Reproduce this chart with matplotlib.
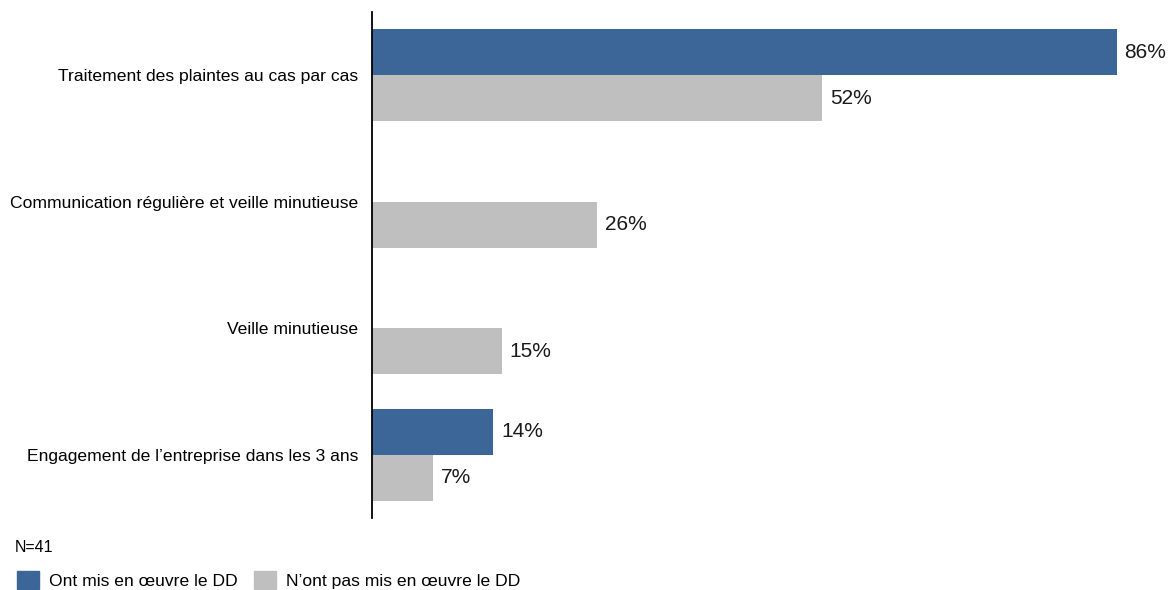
import matplotlib.pyplot as plt
from matplotlib.patches import Patch

plt.rcParams['font.family'] = ['Liberation Sans', 'DejaVu Sans']

categories = ["Traitement des plaintes au cas par cas",
              "Communication régulière et veille minutieuse",
              "Veille minutieuse",
              "Engagement de l\u2019entreprise dans les 3 ans"]
mis_en_oeuvre = [86, 0, 0, 14]
pas_mis_en_oeuvre = [52, 26, 15, 7]
series_names = ["Ont mis en \u0153uvre le DD", "N\u2019ont pas mis en \u0153uvre le DD"]

blue = '#3C6598'
gray = '#BFBFBF'

fig = plt.figure(figsize=(11.73, 5.90), dpi=100)
ax = fig.add_axes([372 / 1173, 1 - 518 / 590, (1173 - 372) / 1173, 506 / 590])

y = list(range(len(categories)))
h = 0.365
ax.barh([v - h / 2 for v in y], mis_en_oeuvre, height=h, color=blue)
ax.barh([v + h / 2 for v in y], pas_mis_en_oeuvre, height=h, color=gray)

for i, v in enumerate(mis_en_oeuvre):
    if v > 0:
        ax.text(v + 0.9, i - h / 2, f"{v}%", va='center', ha='left', fontsize=15, color='#1a1a1a')
for i, v in enumerate(pas_mis_en_oeuvre):
    if v > 0:
        ax.text(v + 0.9, i + h / 2, f"{v}%", va='center', ha='left', fontsize=15, color='#1a1a1a')

ax.set_xlim(0, (1173 - 372) / 8.66)
ax.set_ylim(3.5, -0.5)
ax.set_yticks(y)
ax.set_yticklabels(categories, fontsize=12.6)
ax.tick_params(axis='y', length=0, pad=10)
ax.set_xticks([])
for s in ['top', 'right', 'bottom']:
    ax.spines[s].set_visible(False)
ax.spines['left'].set_linewidth(1.3)

fig.text(15 / 1173, 1 - 547 / 590, "N=41", fontsize=11.5, va='center', ha='left')
handles = [Patch(color=blue), Patch(color=gray)]
fig.legend(handles, series_names, loc='center left', bbox_to_anchor=(3 / 1173, 1 - 580 / 590),
           ncol=2, frameon=False, fontsize=12.6, handlelength=1.26, handleheight=1.2,
           columnspacing=0.9, handletextpad=0.57, borderpad=0.3)

fig.savefig('out.png', dpi=100)
